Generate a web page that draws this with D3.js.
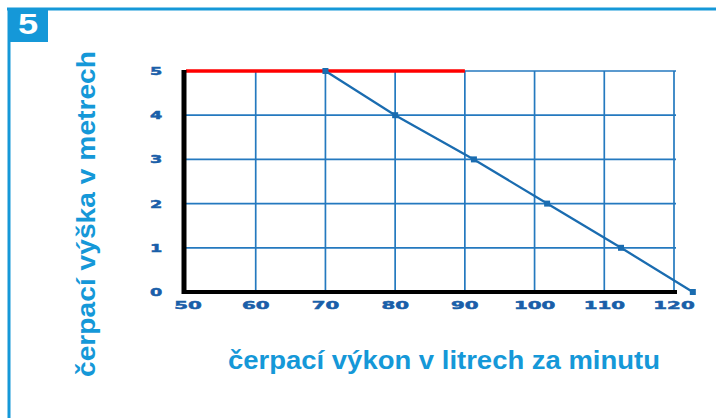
<!DOCTYPE html>
<html><head><meta charset="utf-8">
<script src="https://cdn.jsdelivr.net/npm/d3@7"></script>
<style>body{margin:0;background:#fff}svg{display:block}</style>
</head><body>
<script>
const xTicks = [50, 60, 70, 80, 90, 100, 110, 120];
const yTicks = [0, 1, 2, 3, 4, 5];
const flow = [70, 80, 91.3, 101.8, 112.4, 122.7];
const head = [5, 4, 3, 2, 1, 0];
const limitFlow = [50, 90];
const limitHead = 5;
const badge = "5";
const xTitle = "čerpací výkon v litrech za minutu";
const yTitle = "čerpací výška v metrech";

const W = 716, H = 418;
const svg = d3.select("body").append("svg").attr("width", W).attr("height", H);
const x = d3.scaleLinear().domain([50, 120]).range([186, 674]);
const y = d3.scaleLinear().domain([0, 5]).range([292, 71]);
const frame = "#1598d8", grid = "#2479bf", tick = "#1a5fa9", line = "#1a6cb0";

// frame
svg.append("line").attr("x1", 7).attr("x2", W).attr("y1", 9).attr("y2", 9).attr("stroke", frame).attr("stroke-width", 3);
svg.append("line").attr("x1", 9).attr("x2", 9).attr("y1", 8).attr("y2", H).attr("stroke", frame).attr("stroke-width", 3);
svg.append("rect").attr("x", 8).attr("y", 8).attr("width", 40).attr("height", 34).attr("fill", frame);
svg.append("g").attr("transform", "translate(28,34)").append("text")
  .attr("transform", "scale(1.25,1)").attr("text-anchor", "middle")
  .attr("font-family", "Liberation Sans, Arial, sans-serif").attr("font-weight", "bold")
  .attr("font-size", 29).attr("fill", "#fff").text(badge);

// grid
const g = svg.append("g");
g.selectAll(".vg").data(xTicks.slice(1)).join("line")
  .attr("x1", d => x(d)).attr("x2", d => x(d)).attr("y1", y(5)).attr("y2", y(0))
  .attr("stroke", grid).attr("stroke-width", 1.7);
g.selectAll(".hg").data(yTicks.slice(1)).join("line")
  .attr("x1", x(50)).attr("x2", x(120) + 2).attr("y1", d => y(d)).attr("y2", d => y(d))
  .attr("stroke", grid).attr("stroke-width", 1.7);

// limit line
svg.append("line").attr("x1", x(limitFlow[0])).attr("x2", x(limitFlow[1]))
  .attr("y1", y(limitHead)).attr("y2", y(limitHead)).attr("stroke", "#ff0000").attr("stroke-width", 3.5);

// axes
svg.append("line").attr("x1", x(50) - 2).attr("x2", x(50) - 2).attr("y1", y(5) - 1).attr("y2", y(0) + 2)
  .attr("stroke", "#000").attr("stroke-width", 5);
svg.append("line").attr("x1", x(50) - 4).attr("x2", x(120) + 3).attr("y1", y(0)).attr("y2", y(0))
  .attr("stroke", "#000").attr("stroke-width", 4);

// series
const pts = flow.map((f, i) => [f, head[i]]);
svg.append("path").datum(pts)
  .attr("d", d3.line().x(d => x(d[0])).y(d => y(d[1])))
  .attr("fill", "none").attr("stroke", line).attr("stroke-width", 2.3);
svg.selectAll(".pt").data(pts).join("rect")
  .attr("x", d => x(d[0]) - 3).attr("y", d => y(d[1]) - 3).attr("width", 6).attr("height", 6)
  .attr("fill", line);

// tick labels
const tf = "DejaVu Sans, sans-serif";
svg.selectAll(".xt").data(xTicks).join("g")
  .attr("transform", d => `translate(${x(d) + (d === 50 ? 2 : 0)},309)`)
  .append("text").attr("transform", "scale(1.8,1)").attr("text-anchor", "middle")
  .attr("font-family", tf).attr("font-weight", "bold").attr("font-size", 11)
  .attr("fill", tick).attr("stroke", tick).attr("stroke-width", 0.5).text(d => d);
svg.selectAll(".yt").data(yTicks).join("g")
  .attr("transform", d => `translate(156,${y(d) + 4})`)
  .append("text").attr("transform", "scale(1.6,1)").attr("text-anchor", "middle")
  .attr("font-family", tf).attr("font-weight", "bold").attr("font-size", 11)
  .attr("fill", tick).attr("stroke", tick).attr("stroke-width", 0.5).text(d => d);

// titles
const ttlFont = "Liberation Sans, Arial, sans-serif";
svg.append("text").attr("x", 444).attr("y", 369).attr("text-anchor", "middle")
  .attr("font-family", ttlFont).attr("font-weight", "bold").attr("font-size", 25)
  .attr("fill", frame).attr("textLength", 432).attr("lengthAdjust", "spacingAndGlyphs").text(xTitle);
svg.append("text").attr("transform", "translate(95,214) rotate(-90)").attr("text-anchor", "middle")
  .attr("font-family", ttlFont).attr("font-weight", "bold").attr("font-size", 25)
  .attr("fill", frame).attr("textLength", 326).attr("lengthAdjust", "spacingAndGlyphs").text(yTitle);
</script>
</body></html>
